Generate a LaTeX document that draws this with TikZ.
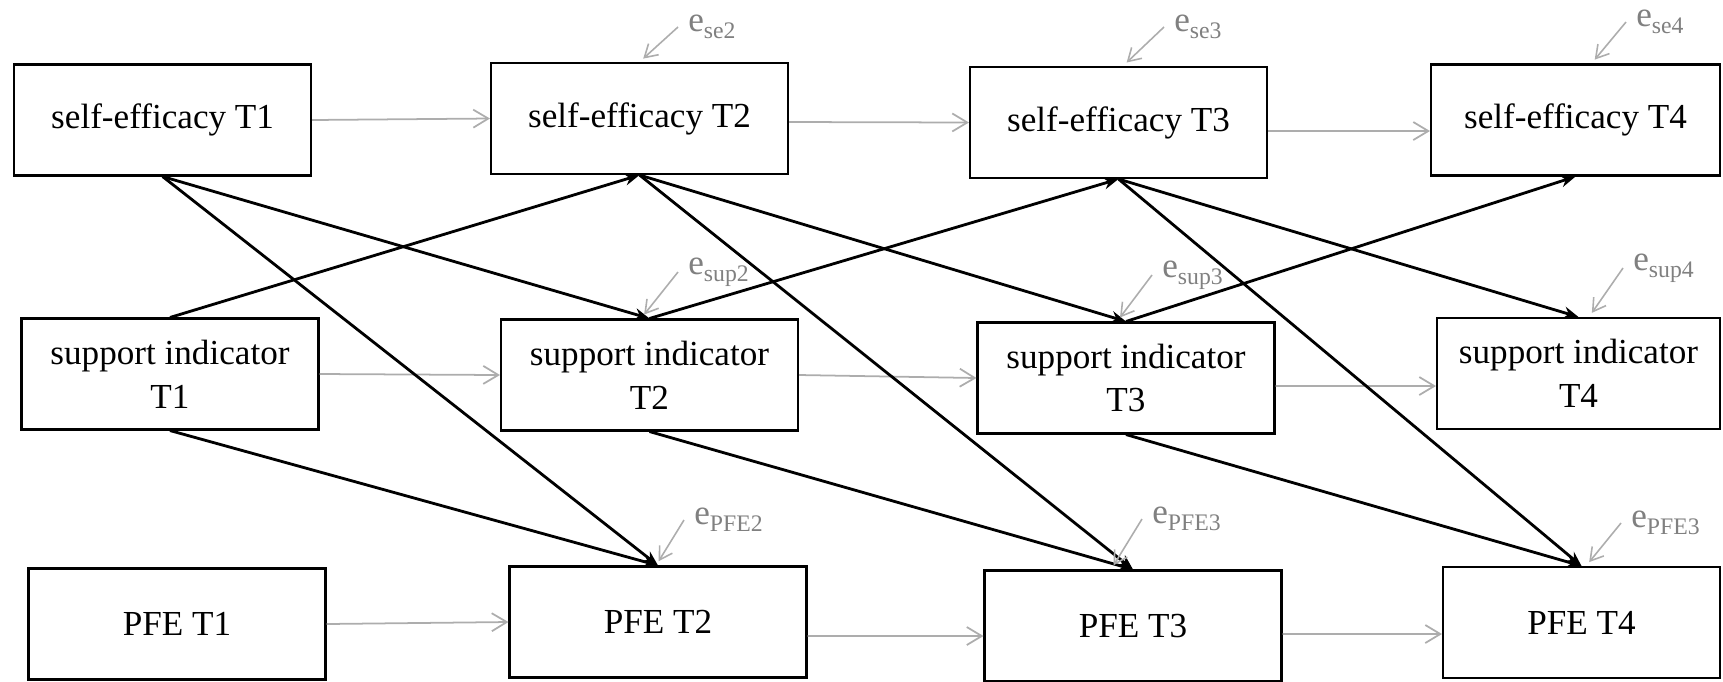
\documentclass[tikz,border=0pt]{standalone}
\usepackage{fontspec}
\setmainfont{Liberation Serif}
\usepackage{xcolor}
\usepackage{tikz}
\usetikzlibrary{arrows.meta}
\definecolor{lagcol}{gray}{0.68}
\definecolor{errcol}{gray}{0.5}
\newcommand{\errlab}[1]{e\raisebox{-4pt}{\fontsize{13.5}{14}\selectfont #1}}

\begin{document}
\begin{tikzpicture}[x=0.02cm, y=-0.02cm,
  box/.style={draw, line width=1.2pt, minimum width=5.94cm, minimum height=2.22cm, align=center, inner sep=2pt, font=\fontsize{20}{25}\selectfont},
  lag/.style={draw=lagcol, line width=1pt, -{Straight Barb[length=0.3cm,width=0.36cm]}},
  crossarr/.style={draw=black, line width=1.6pt, -{Stealth[length=0.3cm,width=0.24cm]}},
  errtxt/.style={anchor=west, text=errcol, inner sep=0.2cm, font=\fontsize{20}{22}\selectfont},
  errarr/.style={draw=lagcol, line width=0.9pt, -{Straight Barb[length=0.25cm,width=0.3cm]}, shorten >=0.1cm}]
\useasboundingbox (0,0) rectangle (1723,681);

% Time 1
\node[box] (se1) at (162.6,120) {self-efficacy T1};
\node[box] (sup1) at (170,374) {support indicator\\T1};
\node[box] (pfe1) at (177,624) {PFE T1};

% Time 2
\node[box] (se2) at (639.5,118.5) {self-efficacy T2};
\node[box] (sup2) at (649.5,375) {support indicator\\T2};
\node[box] (pfe2) at (658,622) {PFE T2};

% Time 3
\node[box] (se3) at (1118.5,122.5) {self-efficacy T3};
\node[box] (sup3) at (1126,378) {support indicator\\T3};
\node[box] (pfe3) at (1133,626) {PFE T3};

% Time 4
\node[box, minimum width=5.78cm] (se4) at (1575.5,120) {self-efficacy T4};
\node[box, minimum width=5.66cm] (sup4) at (1578.5,373.5) {support indicator\\T4};
\node[box, minimum width=5.54cm] (pfe4) at (1581.5,622.5) {PFE T4};

% Autoregressive paths
\foreach \a/\b/\s/\t in {se1/se2/0/0, se2/se3/-0.07/0, se3/se4/-0.17/-0.22,
    sup1/sup2/0/0, sup2/sup3/0/0, sup3/sup4/-0.16/-0.25,
    pfe1/pfe2/0/0, pfe2/pfe3/-0.28/-0.2, pfe3/pfe4/-0.16/-0.23}
  \draw[lag] ([yshift=\s cm]\a.east) -- ([yshift=\t cm]\b.west);

% Cross-lagged paths
\foreach \i/\j in {1/2, 2/3, 3/4} {
  \draw[crossarr] (se\i.south) -- (sup\j.north);
  \draw[crossarr] (se\i.south) -- (pfe\j.north);
  \draw[crossarr] (sup\i.north) -- (se\j.south);
  \draw[crossarr] (sup\i.south) -- (pfe\j.north);
}

% Residuals
\foreach \v/\lab/\x/\y/\dx in {se2/se2/678/27/0, se3/se3/1164/27/4.5, se4/se4/1626/22/16,
    sup2/sup2/678/272/-8.5, sup3/sup3/1152/275/-9, sup4/sup4/1623/268/10.5,
    pfe2/PFE2/684/520/-2, pfe3/PFE3/1142/519/-22, pfe4/PFE3/1621/523/4.5} {
  \node[errtxt] (e\v) at (\x,\y) {\errlab{\lab}};
  \draw[errarr] (e\v.west) -- ([xshift={\dx*0.02cm}]\v.north);
}
\end{tikzpicture}
\end{document}
